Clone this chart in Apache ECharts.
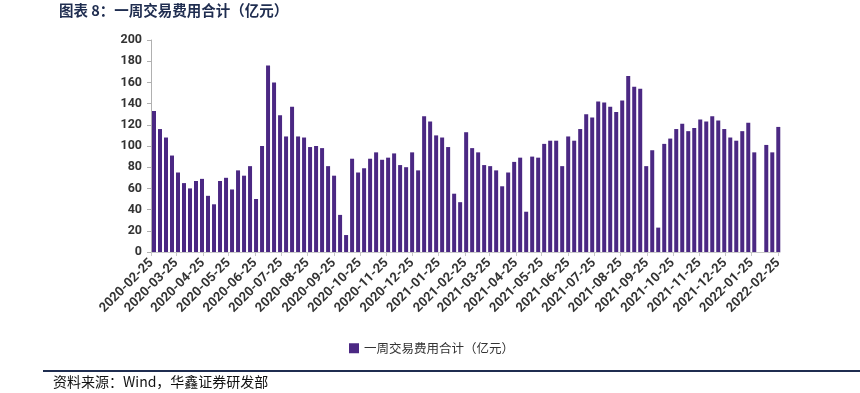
<!DOCTYPE html>
<html>
<head>
<meta charset="utf-8">
<script src="https://cdn.jsdelivr.net/npm/echarts@6/dist/echarts.min.js"></script>
<style>
html,body{margin:0;padding:0;background:#fff;}
#c{width:860px;height:393px;}
</style>
</head>
<body>
<div id="c"></div>
<script>
var weeks = [
'2020-02-28','2020-03-06','2020-03-13','2020-03-20','2020-03-27','2020-04-03','2020-04-10','2020-04-17','2020-04-24','2020-05-01',
'2020-05-08','2020-05-15','2020-05-22','2020-05-29','2020-06-05','2020-06-12','2020-06-19','2020-06-26','2020-07-03','2020-07-10',
'2020-07-17','2020-07-24','2020-07-31','2020-08-07','2020-08-14','2020-08-21','2020-08-28','2020-09-04','2020-09-11','2020-09-18',
'2020-09-25','2020-10-02','2020-10-09','2020-10-16','2020-10-23','2020-10-30','2020-11-06','2020-11-13','2020-11-20','2020-11-27',
'2020-12-04','2020-12-11','2020-12-18','2020-12-25','2021-01-01','2021-01-08','2021-01-15','2021-01-22','2021-01-29','2021-02-05',
'2021-02-12','2021-02-19','2021-02-26','2021-03-05','2021-03-12','2021-03-19','2021-03-26','2021-04-02','2021-04-09','2021-04-16',
'2021-04-23','2021-04-30','2021-05-07','2021-05-14','2021-05-21','2021-05-28','2021-06-04','2021-06-11','2021-06-18','2021-06-25',
'2021-07-02','2021-07-09','2021-07-16','2021-07-23','2021-07-30','2021-08-06','2021-08-13','2021-08-20','2021-08-27','2021-09-03',
'2021-09-10','2021-09-17','2021-09-24','2021-10-01','2021-10-08','2021-10-15','2021-10-22','2021-10-29','2021-11-05','2021-11-12',
'2021-11-19','2021-11-26','2021-12-03','2021-12-10','2021-12-17','2021-12-24','2021-12-31','2022-01-07','2022-01-14','2022-01-21',
'2022-01-28','2022-02-04','2022-02-11','2022-02-18','2022-02-25'
];
var fees = [
133,116,108,91,75,65,60,67,69,53,
45,67,70,59,77,72,81,50,100,176,
160,129,109,137,109,108,99,100,98,81,
72,35,16,88,75,79,88,94,87,89,
93,82,80,94,77,128,123,110,108,99,
55,47,113,98,94,82,81,77,62,75,
85,89,38,90,89,102,105,105,81,109,
105,116,130,127,142,141,137,132,143,166,
156,154,81,96,23,102,107,116,121,114,
117,125,123,128,124,116,108,105,114,122,
94,null,101,94,118
];
var monthTicks = [
'2020-02-25','2020-03-25','2020-04-25','2020-05-25','2020-06-25','2020-07-25','2020-08-25','2020-09-25','2020-10-25',
'2020-11-25','2020-12-25','2021-01-25','2021-02-25','2021-03-25','2021-04-25','2021-05-25','2021-06-25','2021-07-25',
'2021-08-25','2021-09-25','2021-10-25','2021-11-25','2021-12-25','2022-01-25','2022-02-25'
];
var seriesName = '一周交易费用合计（亿元）';
var titleText = '图表 8：一周交易费用合计（亿元）';
var sourceText = '资料来源：Wind，华鑫证券研发部';

// day number (UTC) for a yyyy-mm-dd string
function dayNum(s){ var p = s.split('-'); return Date.UTC(+p[0], +p[1]-1, +p[2]) / 86400000; }
function pad(n){ return n<10 ? '0'+n : ''+n; }
function dayStr(v){ var d = new Date(Math.round(v) * 86400000); return d.getUTCFullYear()+'-'+pad(d.getUTCMonth()+1)+'-'+pad(d.getUTCDate()); }
var tickDays = monthTicks.map(dayNum);
var data = weeks.map(function(d,i){ return [dayNum(d), fees[i]]; });

var chart = echarts.init(document.getElementById('c'), null, {renderer:'canvas'});
chart.setOption({
  animation: false,
  backgroundColor: '#fff',
  grid: {left: 151, right: 80, top: 40, bottom: 141, containLabel: false},
  title: {
    text: titleText, left: 54, top: -2,
    textStyle: {fontFamily: '"Noto Sans CJK SC"', fontSize: 14.5, fontWeight: 'bold', color: '#1f2d50'}
  },
  legend: {
    data: [seriesName], left: 344, top: 337, icon: 'rect', itemWidth: 10, itemHeight: 10, itemGap: 3,
    textStyle: {fontFamily: '"Noto Sans CJK SC"', fontSize: 12.5, color: '#333'}
  },
  xAxis: {
    type: 'value',
    min: dayNum('2020-02-24') + 0.5,
    max: dayNum('2022-02-27'),
    axisLine: {show: true, onZero: false, lineStyle: {color: '#c8c8c8', width: 1}},
    axisTick: {show: true, customValues: tickDays, length: 4, lineStyle: {color: '#c8c8c8'}},
    axisLabel: {
      customValues: tickDays, rotate: 45, fontFamily: 'Roboto', fontWeight: 'bold', fontSize: 13, color: '#333', margin: 9,
      hideOverlap: false, showMinLabel: true, showMaxLabel: true,
      formatter: function(v){ return dayStr(v); }
    },
    splitLine: {show: false}
  },
  yAxis: {
    type: 'value', min: 0, max: 200, interval: 20,
    axisLine: {show: true, lineStyle: {color: '#b0b0b0'}},
    axisTick: {show: true, length: 4, lineStyle: {color: '#b0b0b0'}},
    axisLabel: {fontFamily: 'Roboto', fontWeight: 'bold', fontSize: 12.5, color: '#333', margin: 9},
    splitLine: {show: false}
  },
  series: [{
    name: seriesName, type: 'bar', data: data, barWidth: 4,
    itemStyle: {color: '#4b2883'}
  }],
  graphic: [
    {type: 'rect', shape: {x: 43, y: 370, width: 817, height: 2}, style: {fill: '#1f2d50'}},
    {type: 'text', left: 53, top: 375, style: {text: sourceText, font: '14px "Noto Sans CJK SC"', fill: '#111'}}
  ]
});
</script>
</body>
</html>
